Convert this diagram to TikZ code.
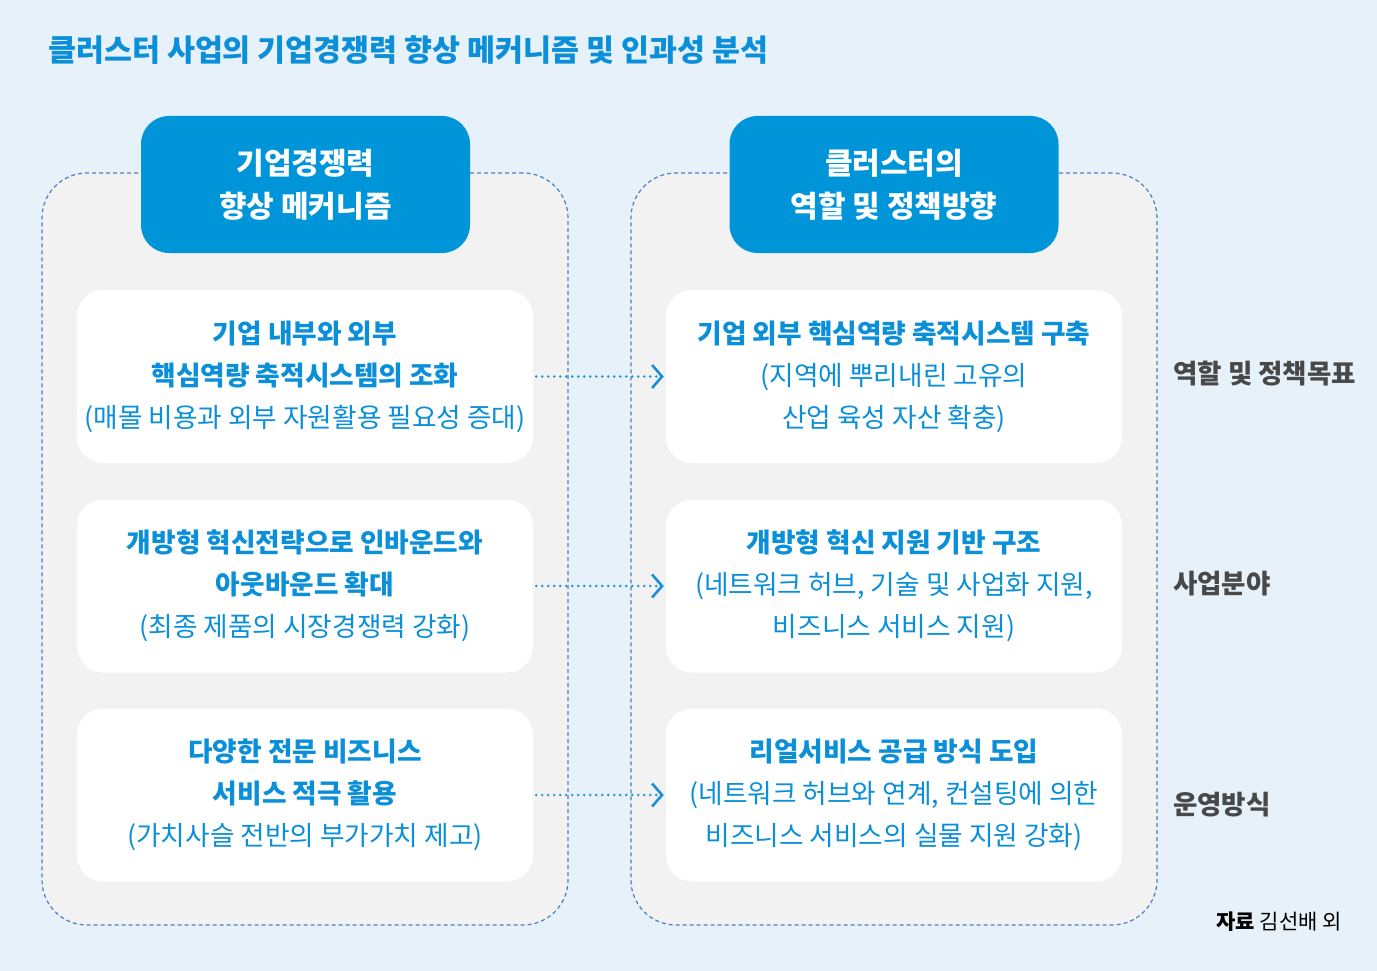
\documentclass[tikz,border=0pt]{standalone}
\usepackage{fontspec}
\setmainfont{Noto Sans CJK KR}
\usetikzlibrary{arrows.meta}
\definecolor{bgc}{HTML}{E7F1FA}
\definecolor{panelc}{HTML}{F2F2F2}
\definecolor{dashc}{HTML}{4A80C0}
\definecolor{hdrc}{HTML}{0094D9}
\definecolor{txtc}{HTML}{0A8FD8}
\definecolor{arrc}{HTML}{1A90D8}
\definecolor{lblc}{HTML}{484848}
\begin{document}
\begin{tikzpicture}[x=1pt,y=-1pt,
 panel/.style={draw=dashc, fill=panelc, line width=1.2pt, dash pattern=on 4pt off 3pt, rounded corners=45pt, minimum width=526pt, minimum height=752pt, inner sep=0pt},
 hdrbox/.style={fill=hdrc, rounded corners=28pt, minimum width=329pt, minimum height=137pt, text=white, font=\fontsize{30}{43}\selectfont\bfseries, align=center, inner sep=0pt},
 innerbox/.style={fill=white, rounded corners=26pt, minimum width=456pt, minimum height=173pt, text=txtc, font=\fontsize{26.7}{42}\selectfont, align=center, inner sep=0pt},
 link/.style={draw=arrc, line width=2.6pt, dash pattern=on 0pt off 6pt, line cap=round, shorten <=3pt, shorten >=2pt, -{Straight Barb[length=10pt,width=23pt,line width=2.6pt]}},
 rlabel/.style={anchor=west, text=lblc, font=\fontsize{26.5}{30}\selectfont\bfseries, inner sep=0pt}]
\fill[bgc] (0,0) rectangle (1377,971);
\useasboundingbox (0,0) rectangle (1377,971);
\node[anchor=west, inner sep=0pt, text=txtc, font=\fontsize{30.4}{36}\selectfont\bfseries] (title) at (48,50) {클러스터 사업의 기업경쟁력 향상 메커니즘 및 인과성 분석};
% panels
\node[panel] (lp) at (305,549) {};
\node[panel] (rp) at (894,549) {};
% headers
\node[hdrbox] (lh) at (305.5,184.5) {기업경쟁력\\향상 메커니즘};
\node[hdrbox] (rh) at (894,184.5) {클러스터의\\역할 및 정책방향};
% left boxes
\node[innerbox] (l1) at (305,376.5) {\textbf{기업 내부와 외부}\\\textbf{핵심역량 축적시스템의 조화}\\(매몰 비용과 외부 자원활용 필요성 증대)};
\node[innerbox] (l2) at (305,586) {\textbf{개방형 혁신전략으로 인바운드와}\\\textbf{아웃바운드 확대}\\(최종 제품의 시장경쟁력 강화)};
\node[innerbox] (l3) at (305,795) {\textbf{다양한 전문 비즈니스}\\\textbf{서비스 적극 활용}\\(가치사슬 전반의 부가가치 제고)};
% right boxes
\node[innerbox] (r1) at (894,376.5) {\textbf{기업 외부 핵심역량 축적시스템 구축}\\(지역에 뿌리내린 고유의\\산업 육성 자산 확충)};
\node[innerbox] (r2) at (894,586) {\textbf{개방형 혁신 지원 기반 구조}\\(네트워크 허브, 기술 및 사업화 지원,\\비즈니스 서비스 지원)};
\node[innerbox] (r3) at (894,795) {\textbf{리얼서비스 공급 방식 도입}\\(네트워크 허브와 연계, 컨설팅에 의한\\비즈니스 서비스의 실물 지원 강화)};
% connectors
\draw[link] (l1) -- (r1);
\draw[link] (l2) -- (r2);
\draw[link] (l3) -- (r3);
% right labels
\node[rlabel] (g1) at (1173,374) {역할 및 정책목표};
\node[rlabel] (g2) at (1173,584) {사업분야};
\node[rlabel] (g3) at (1173,805) {운영방식};
% source
\node[anchor=east, inner sep=0pt, text=black, font=\fontsize{21}{24}\selectfont] (src) at (1342,922) {\textbf{자료} 김선배 외};
\end{tikzpicture}
\end{document}
